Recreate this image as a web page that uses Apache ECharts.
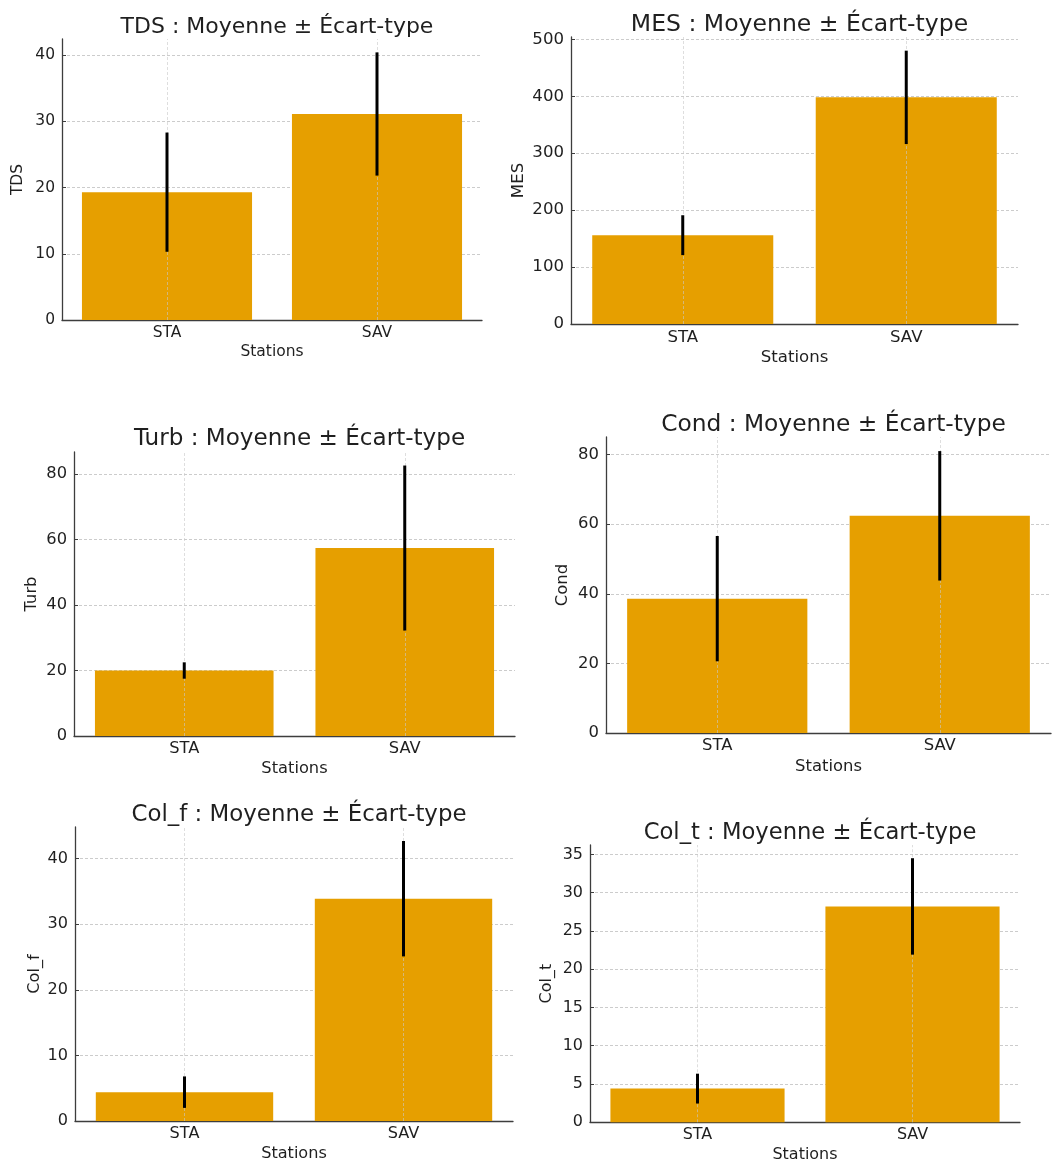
<!DOCTYPE html>
<html>
<head>
<meta charset="utf-8">
<script src="https://cdn.jsdelivr.net/npm/echarts@6/dist/echarts.min.js"></script>
<style>
html,body{margin:0;padding:0;background:#fff;}
#chart{width:1056px;height:1164px;}
</style>
</head>
<body>
<div id="chart"></div>
<script>
// ---------- DATA ----------
const stations = ['STA', 'SAV'];
const paramNames = ['TDS', 'MES', 'Turb', 'Cond', 'Col_f', 'Col_t'];
const tdsMean = [19.3, 31.1];   const tdsStd = [9.0, 9.3];
const mesMean = [156, 398];     const mesStd = [35, 82];
const turbMean = [20.0, 57.4];  const turbStd = [2.5, 25.2];
const condMean = [38.6, 62.4];  const condStd = [18.0, 18.6];
const colfMean = [4.4, 33.9];   const colfStd = [2.4, 8.8];
const coltMean = [4.4, 28.2];   const coltStd = [1.95, 6.3];
const yTickIntervals = [10, 100, 20, 20, 10, 5];
const titleSuffix = ' : Moyenne ± Écart-type';
const xAxisTitle = 'Stations';

const means = [tdsMean, mesMean, turbMean, condMean, colfMean, coltMean];
const stds = [tdsStd, mesStd, turbStd, condStd, colfStd, coltStd];

// ---------- LAYOUT (positions / sizes only) ----------
const layout = [
  {left: 62,  top: 39,  width: 420, height: 281, titleY: 25,  s: 1.00, yNameGap: 36},
  {left: 571, top: 37,  width: 447, height: 287, titleY: 22,  s: 1.07, yNameGap: 44},
  {left: 74,  top: 452, width: 441, height: 284, titleY: 437, s: 1.05, yNameGap: 34},
  {left: 606, top: 437, width: 445, height: 296, titleY: 423, s: 1.06, yNameGap: 35},
  {left: 75,  top: 827, width: 438, height: 294, titleY: 813, s: 1.04, yNameGap: 32},
  {left: 590, top: 845, width: 430, height: 278, titleY: 831, s: 1.03, yNameGap: 35}
];

const barColor = '#E69F00';
const textColor = '#1f1f1f';
const axisColor = '#3d3d3d';
const gridLineStyle = {color: '#cccccc', width: 1, type: [3, 2]};
const vGridLineStyle = {color: 'rgba(200,200,200,0.6)', width: 1, type: [3, 2]};
const FONT = 'DejaVu Sans';

const titles = [], grids = [], xAxes = [], yAxes = [], series = [];

paramNames.forEach((name, i) => {
  const L = layout[i];
  const m = means[i], sd = stds[i];
  const top = Math.max(...m.map((v, k) => v + sd[k]));
  const tickFs = 15.5 * L.s;
  const titleFs = 22 * L.s;

  titles.push({
    text: name + titleSuffix,
    left: L.left + L.width / 2,
    top: L.titleY - titleFs * 0.62,
    textAlign: 'center',
    textStyle: {fontFamily: FONT, fontSize: titleFs, fontWeight: 'normal', color: textColor}
  });
  grids.push({left: L.left, top: L.top, width: L.width, height: L.height, containLabel: false});
  xAxes.push({
    type: 'category', gridIndex: i, data: stations,
    name: xAxisTitle, nameLocation: 'middle', nameGap: 24 * L.s,
    nameTextStyle: {fontFamily: FONT, fontSize: tickFs, color: textColor},
    axisLine: {show: true, lineStyle: {color: axisColor, width: 1.3}},
    axisTick: {show: true, alignWithLabel: true, inside: true, length: 4, lineStyle: {color: axisColor}},
    axisLabel: {fontFamily: FONT, fontSize: tickFs, color: textColor, margin: 5},
    splitLine: {show: false}
  });
  yAxes.push({
    type: 'value', gridIndex: i, min: 0, max: top * 1.05, interval: yTickIntervals[i],
    name: name, nameLocation: 'middle', nameGap: L.yNameGap,
    nameTextStyle: {fontFamily: FONT, fontSize: tickFs, color: textColor},
    axisLine: {show: true, lineStyle: {color: axisColor, width: 1.3}},
    axisTick: {show: true, inside: true, length: 4, lineStyle: {color: axisColor}},
    axisLabel: {fontFamily: FONT, fontSize: tickFs, color: textColor, margin: 7, showMaxLabel: false},
    splitLine: {show: true, showMinLine: false, showMaxLine: false, lineStyle: gridLineStyle}
  });
  series.push({
    type: 'bar', xAxisIndex: i, yAxisIndex: i,
    data: m, barWidth: '81%',
    itemStyle: {color: barColor},
    z: 2,
    markLine: {
      silent: true, symbol: 'none', label: {show: false},
      lineStyle: vGridLineStyle,
      emphasis: {disabled: true},
      data: stations.map(st => ({xAxis: st}))
    }
  });
  series.push({
    type: 'custom', xAxisIndex: i, yAxisIndex: i, z: 5,
    data: m.map((v, k) => [k, v - sd[k], v + sd[k]]),
    encode: {x: 0, y: [1, 2]},
    renderItem: (params, api) => {
      const lo = api.coord([api.value(0), api.value(1)]);
      const hi = api.coord([api.value(0), api.value(2)]);
      return {
        type: 'line',
        shape: {x1: lo[0], y1: lo[1], x2: hi[0], y2: hi[1]},
        style: {stroke: '#000', lineWidth: 3}
      };
    }
  });
});

const chart = echarts.init(document.getElementById('chart'), null, {renderer: 'canvas'});
chart.setOption({
  animation: false,
  backgroundColor: '#fff',
  title: titles,
  grid: grids,
  xAxis: xAxes,
  yAxis: yAxes,
  series: series
});
</script>
</body>
</html>
